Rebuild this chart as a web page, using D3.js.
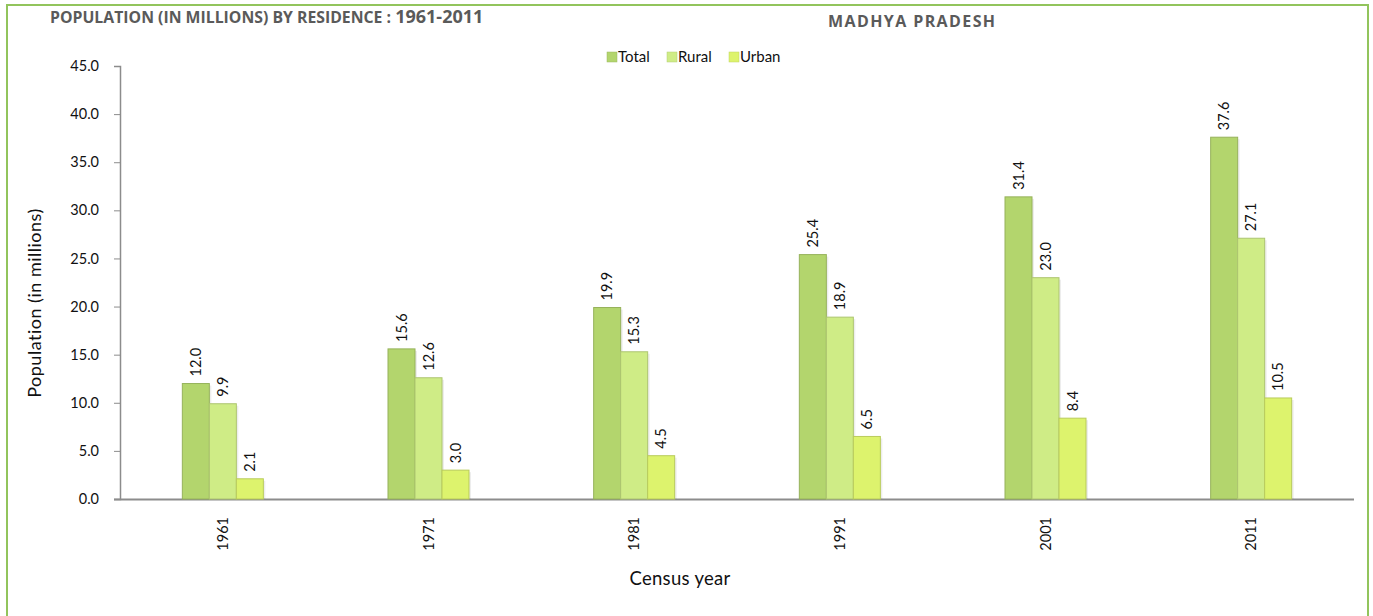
<!DOCTYPE html>
<html>
<head>
<meta charset="utf-8">
<script src="https://cdn.jsdelivr.net/npm/d3@7"></script>
<style>
  body { margin: 0; padding: 0; background: #fff; }
  svg text { font-family: Lato, "Noto Sans", sans-serif; fill: #111; }
  .title { font-family: "Open Sans", sans-serif; font-weight: 700; fill: #5a5a5a; }
  .axis path, .axis line { stroke: #8c8c8c; }
</style>
</head>
<body>
<script>
// data
var years = ["1961", "1971", "1981", "1991", "2001", "2011"];
var series = ["Total", "Rural", "Urban"];
var total = [12.0, 15.6, 19.9, 25.4, 31.4, 37.6];
var rural = [9.9, 12.6, 15.3, 18.9, 23.0, 27.1];
var urban = [2.1, 3.0, 4.5, 6.5, 8.4, 10.5];
var yTicks = [0, 5, 10, 15, 20, 25, 30, 35, 40, 45];

function draw() {
    var colors = { Total: "#b3d56d", Rural: "#cfec86", Urban: "#ddf36d" };
    var values = { Total: total, Rural: rural, Urban: urban };

    var width = 1373, height = 616;
    var plotLeft = 120, plotRight = 1354, plotTop = 66, plotBottom = 499;

    var svg = d3.select("body").append("svg")
        .attr("width", width)
        .attr("height", height);

    // outer frame
    svg.append("rect")
        .attr("x", 7).attr("y", 5)
        .attr("width", 1361).attr("height", 620)
        .attr("fill", "none")
        .attr("stroke", "#92c45c")
        .attr("stroke-width", 2);

    var x0 = d3.scaleBand().domain(years).range([plotLeft, plotRight]);
    var groupW = 81;
    var x1 = d3.scaleBand().domain(series).range([0, groupW]);
    var y = d3.scaleLinear().domain([0, 45]).range([plotBottom, plotTop]);

    // y axis
    var yAxis = svg.append("g")
        .attr("class", "axis")
        .attr("transform", "translate(" + plotLeft + ",0)")
        .call(d3.axisLeft(y).tickValues(yTicks).tickSize(6).tickSizeOuter(6).tickFormat(d3.format(".1f")));
    yAxis.selectAll("text").attr("font-size", 14.5).attr("x", -21).style("fill", "#111");
    yAxis.select(".domain").attr("stroke-width", 1.5);

    // x axis line
    svg.append("line")
        .attr("x1", plotLeft - 6).attr("x2", plotRight)
        .attr("y1", plotBottom + 0.5).attr("y2", plotBottom + 0.5)
        .attr("stroke", "#8c8c8c").attr("stroke-width", 2);

    var groups = svg.selectAll(".grp")
        .data(years)
        .enter().append("g")
        .attr("class", "grp")
        .attr("transform", function(d) {
            return "translate(" + (x0(d) + x0.bandwidth() / 2 - groupW / 2) + ",0)";
        });

    series.forEach(function(s) {
        // soft shadow on right side
        groups.append("rect")
            .attr("x", x1(s) + 2)
            .attr("y", function(d, i) { return y(values[s][i]) + 2; })
            .attr("width", x1.bandwidth())
            .attr("height", function(d, i) { return plotBottom - y(values[s][i]) - 2; })
            .attr("fill", "#000")
            .attr("opacity", 0.07);
        groups.append("rect")
            .attr("x", x1(s))
            .attr("y", function(d, i) { return y(values[s][i]); })
            .attr("width", x1.bandwidth())
            .attr("height", function(d, i) { return plotBottom - y(values[s][i]); })
            .attr("fill", colors[s])
            .attr("stroke", d3.color(colors[s]).darker(0.5))
            .attr("stroke-width", 1);
        groups.append("text")
            .attr("transform", function(d, i) {
                return "translate(" + (x1(s) + x1.bandwidth() / 2) + "," + (y(values[s][i]) - 7) + ")rotate(-90)";
            })
            .attr("dy", "0.35em")
            .attr("font-size", 14.5)
            .text(function(d, i) { return d3.format(".1f")(values[s][i]); });
    });

    // year labels
    groups.append("text")
        .attr("transform", "translate(" + groupW / 2 + "," + (plotBottom + 18) + ")rotate(-90)")
        .attr("text-anchor", "end")
        .attr("dy", "0.35em")
        .attr("font-size", 14.5)
        .text(function(d) { return d; });

    // axis titles
    svg.append("text")
        .attr("transform", "translate(35," + 303 + ")rotate(-90)")
        .attr("text-anchor", "middle")
        .attr("dy", "0.35em")
        .attr("font-size", 18)
        .attr("letter-spacing", 0.5)
        .text("Population (in millions)");

    svg.append("text")
        .attr("x", 680).attr("y", 585)
        .attr("text-anchor", "middle")
        .attr("font-size", 18.5)
        .attr("letter-spacing", 0.3)
        .text("Census year");

    // titles
    var t = svg.append("text")
        .attr("class", "title")
        .attr("x", 50).attr("y", 23);
    t.append("tspan").attr("font-size", 15.8).text("POPULATION (IN MILLIONS) BY RESIDENCE : ");
    t.append("tspan").attr("font-size", 18).text("1961-2011");

    svg.append("text")
        .attr("class", "title")
        .attr("x", 828).attr("y", 27)
        .attr("font-size", 16)
        .attr("letter-spacing", 1.4)
        .text("MADHYA PRADESH");

    // legend
    var legX = [607, 667, 729];
    var leg = svg.selectAll(".leg")
        .data(series)
        .enter().append("g")
        .attr("class", "leg")
        .attr("transform", function(d, i) { return "translate(" + legX[i] + ",52)"; });
    leg.append("rect")
        .attr("width", 10).attr("height", 10)
        .attr("fill", function(d) { return colors[d]; })
        .attr("stroke", function(d) { return d3.color(colors[d]).darker(0.4); })
        .attr("stroke-width", 0.5);
    leg.append("text")
        .attr("x", 11).attr("y", 5)
        .attr("dy", "0.35em")
        .attr("font-size", 15)
        .text(function(d) { return d; });
}
draw();
</script>
</body>
</html>
